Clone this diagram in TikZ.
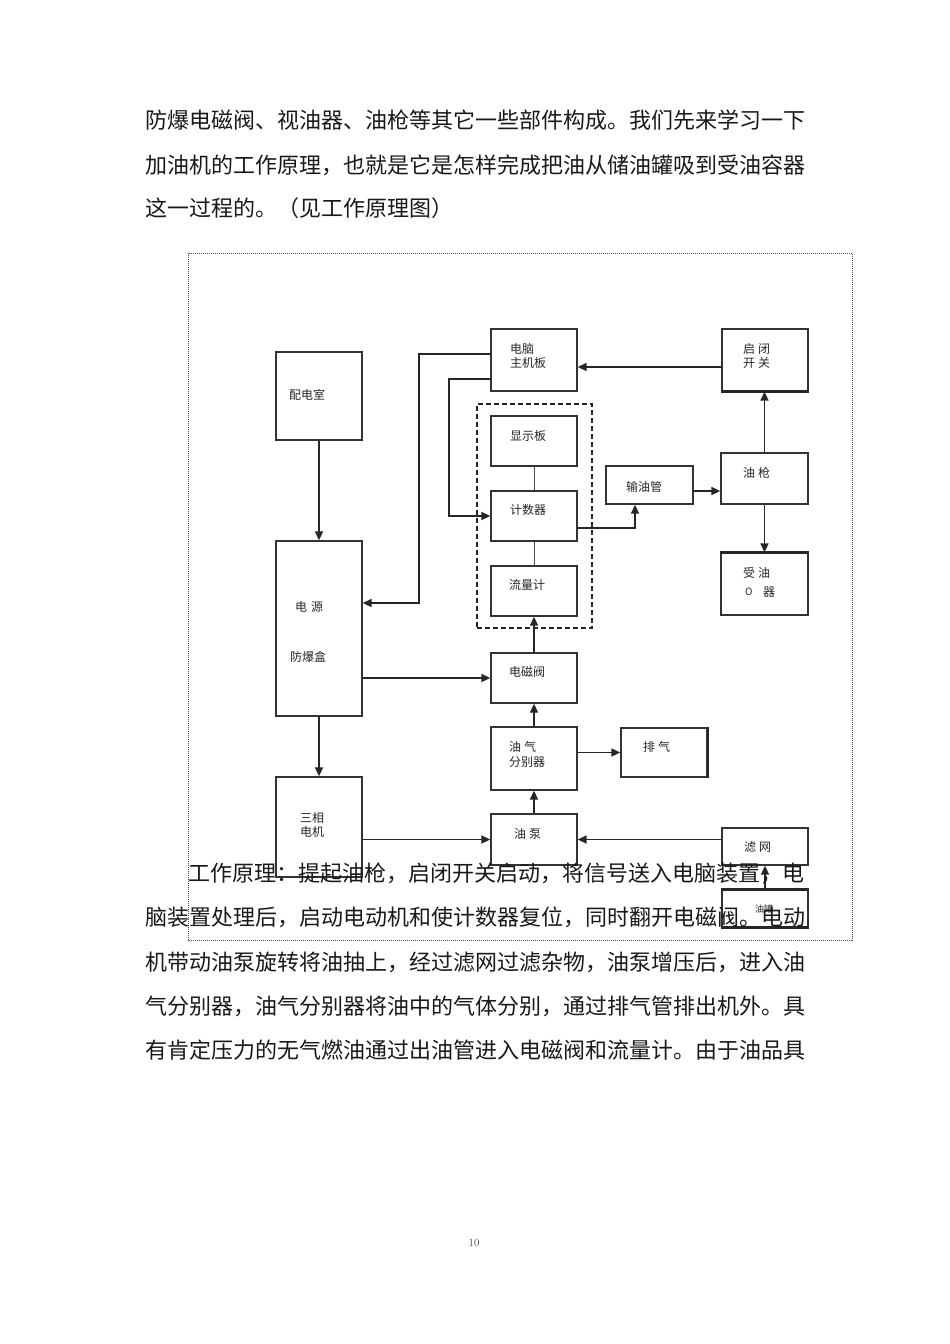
\documentclass[tikz,border=0pt]{standalone}
\usepackage{fontspec}
\newfontfamily\cjk{Noto Sans CJK SC}
\usetikzlibrary{arrows.meta}
\begin{document}
\begin{tikzpicture}[x=1pt,y=-1pt,
  box/.style={draw=black!80,line width=1.3pt,inner sep=0pt,rectangle},
  lbl/.style={anchor=west,inner sep=0pt,font=\cjk\fontsize{12}{14}\selectfont,text=black!85},
  small/.style={anchor=west,inner sep=0pt,font=\cjk\fontsize{9}{10}\selectfont,text=black!85},
  body/.style={anchor=west,inner sep=0pt,font=\cjk\fontsize{22}{26}\selectfont,text=black!90},
  arr/.style={draw=black!85,line width=1.6pt,-{Triangle[length=9pt,width=8pt]}},
  thinl/.style={draw=black!70,line width=1pt},
  thick/.style={draw=black!85,line width=2.6pt}]
\useasboundingbox (0,0) rectangle (950,1344);
\fill[white] (0,0) rectangle (950,1344);

% top text
\node[body] (t1) at (145,120) {防爆电磁阀、视油器、油枪等其它一些部件构成。我们先来学习一下};
\node[body] (t2) at (145,165) {加油机的工作原理，也就是它是怎样完成把油从储油罐吸到受油容器};
\node[body] (t3) at (145,208) {这一过程的。（见工作原理图）};

% dotted frame
\draw[black!70,line width=0.7pt,dash pattern=on 1pt off 1pt] (188,253) rectangle (852,940);

% boxes
\node[box,minimum width=86pt,minimum height=88pt] (peidian) at (319,396) {};
\node[box,minimum width=86pt,minimum height=62pt] (diannao) at (534,360) {};
\node[box,minimum width=86pt,minimum height=62pt] (qibi) at (765,360) {};
\node[draw=black!85,line width=1.1pt,dash pattern=on 5pt off 3pt,inner sep=0pt,minimum width=115pt,minimum height=224pt] (group) at (534.5,516) {};
\node[box,minimum width=86pt,minimum height=50pt] (xianshi) at (534,441) {};
\node[box,minimum width=86pt,minimum height=50pt] (jishu) at (534,516) {};
\node[box,minimum width=86pt,minimum height=50pt] (liuliang) at (534,591) {};
\node[box,minimum width=87pt,minimum height=38pt] (shuyou) at (649.5,485) {};
\node[box,minimum width=87pt,minimum height=51pt] (youqiang) at (764.5,478.5) {};
\node[box,minimum width=87pt,minimum height=62pt] (shouyou) at (764.5,584) {};
\node[box,minimum width=86pt,minimum height=175pt] (dianyuan) at (319,628.5) {};
\node[box,minimum width=86pt,minimum height=50pt] (diancifa) at (534,678) {};
\node[box,minimum width=86pt,minimum height=63pt] (youqi) at (534,758.5) {};
\node[box,minimum width=86pt,minimum height=49pt] (paiqi) at (664,752.5) {};
\node[box,minimum width=86pt,minimum height=100pt] (sanxiang) at (319,827) {};
\node[box,minimum width=86pt,minimum height=51pt] (youbeng) at (534,839.5) {};
\node[box,minimum width=86pt,minimum height=37pt] (lvwang) at (765,846.5) {};
\node[box,minimum width=86pt,minimum height=37pt] (youguan) at (765,908.5) {};

% thick edges
\draw[thick] (qibi.south west) -- (qibi.south east);
\draw[thick] (shouyou.north west) -- (shouyou.north east);
\draw[thick] (youguan.north west) -- (youguan.north east);
\draw[thick] (youguan.south west) -- (youguan.south east);
\draw[draw=black!85,line width=2pt] (paiqi.north east) -- (paiqi.south east);

% labels
\node[lbl] (l1) at (289,395) {配电室};
\node[lbl] (l2) at (510,349) {电脑};
\node[lbl] (l3) at (510,363) {主机板};
\node[lbl] (l4) at (743,349) {启\hspace{3pt}闭};
\node[lbl] (l5) at (743,363) {开\hspace{3pt}关};
\node[lbl] (l6) at (510,436) {显示板};
\node[lbl] (l7) at (510,510) {计数器};
\node[lbl] (l8) at (509,585) {流量计};
\node[lbl] (l9) at (626,487) {输油管};
\node[lbl] (l10) at (743,473) {油\hspace{3pt}枪};
\node[lbl] (l11) at (743,573) {受\hspace{3pt}油};
\node[lbl] (l12) at (745,592) {\fontsize{10}{12}\selectfont O};
\node[lbl] (l13) at (763,592) {器};
\node[lbl] (l14) at (295,607) {电\hspace{4pt}源};
\node[lbl] (l15) at (290,657) {防爆盒};
\node[lbl] (l16) at (509,672) {电磁阀};
\node[lbl] (l17) at (509,747) {油\hspace{3pt}气};
\node[lbl] (l18) at (509,762) {分别器};
\node[lbl] (l19) at (643,747) {排\hspace{3pt}气};
\node[lbl] (l20) at (300,818) {三相};
\node[lbl] (l21) at (300,832) {电机};
\node[lbl] (l22) at (514,834) {油\hspace{3pt}泵};
\node[lbl] (l23) at (744,847) {滤\hspace{3pt}网};
\node[small] (l24) at (755,909) {油罐};

% coordinates for bends
\coordinate (c1) at (635,528);
\coordinate (c2) at (700,491);
\coordinate (c3) at (650,367);
\coordinate (c4) at (419,354);
\coordinate (c5) at (419,603);
\coordinate (c6) at (449,379);

% connectors
\draw[arr] (peidian.south) -- (dianyuan.north);
\draw[arr] (dianyuan.south) -- (sanxiang.north);
\draw[arr] (sanxiang.east |- youbeng.west) -- (youbeng.west);
\draw[arr] (lvwang.west |- youbeng.east) -- (youbeng.east);
\draw[arr] (youguan.north) -- (lvwang.south);
\draw[arr] (youbeng.north) -- (youqi.south);
\draw[arr] (youqi.north) -- (diancifa.south);
\draw[arr] (youqi.east |- paiqi.west) -- (paiqi.west);
\draw[arr] (dianyuan.east |- diancifa.west) -- (diancifa.west);
\draw[arr] (diancifa.north) -- (liuliang.south);
\draw[thinl] (xianshi.south) -- (jishu.north);
\draw[thinl] (jishu.south) -- (liuliang.north);
\draw[arr] (jishu.east |- c1) -- (c1) -- (c1 |- shuyou.south);
\draw[arr] (shuyou.east |- c2) -- (youqiang.west |- c2);
\draw[arr] (youqiang.north) -- (youqiang.north |- qibi.south);
\draw[arr] (youqiang.south) -- (youqiang.south |- shouyou.north);
\draw[arr] (qibi.west |- c3) -- (diannao.east |- c3);
\draw[arr] (diannao.west |- c4) -- (c4) -- (c5) -- (dianyuan.east |- c5);
\draw[arr] (diannao.west |- c6) -- (c6) |- (jishu.west);

% bottom text
\node[body] (b1) at (188,873) {工作原理：提起油枪，启闭开关启动，将信号送入电脑装置，电};
\node[body] (b2) at (145,917) {脑装置处理后，启动电动机和使计数器复位，同时翻开电磁阀。电动};
\node[body] (b3) at (145,962) {机带动油泵旋转将油抽上，经过滤网过滤杂物，油泵增压后，进入油};
\node[body] (b4) at (145,1006) {气分别器，油气分别器将油中的气体分别，通过排气管排出机外。具};
\node[body] (b5) at (145,1050) {有肯定压力的无气燃油通过出油管进入电磁阀和流量计。由于油品具};

% page number
\node[inner sep=0pt,font=\fontsize{11}{12}\selectfont,text=black!75] (pg) at (474,1243) {10};
\end{tikzpicture}
\end{document}
